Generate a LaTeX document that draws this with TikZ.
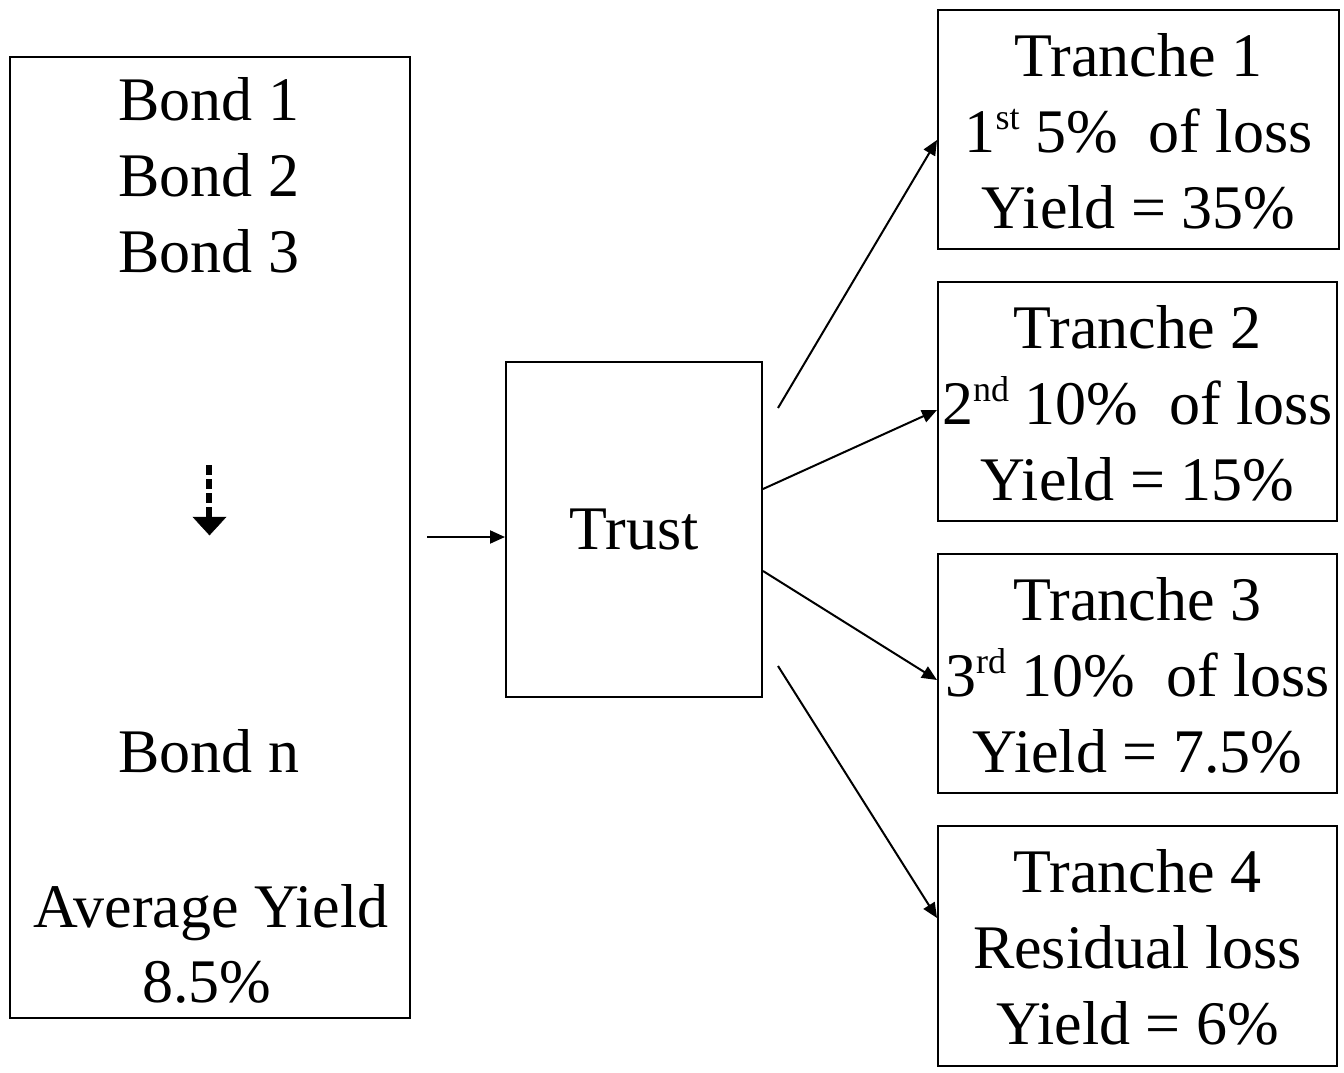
\documentclass[tikz,border=0pt]{standalone}
\usepackage{fontspec}
\setmainfont{Liberation Serif}
\usetikzlibrary{arrows.meta,calc}
\tikzset{
  box/.style={draw=black, line width=2pt, inner sep=0pt, align=center, font=\fontsize{62}{76}\selectfont},
  lbl/.style={anchor=base, inner sep=0pt, font=\fontsize{62}{76}\selectfont},
  conn/.style={line width=2pt, -{Triangle[length=15pt,width=13pt]}},
}
\newcommand{\sups}[1]{\raisebox{0.36em}{\fontsize{36}{36}\selectfont #1}}
\begin{document}
\begin{tikzpicture}[x=1pt,y=-1pt]
\path[use as bounding box] (0,0) rectangle (1344,1073);
% pool
\node[box, minimum width=400pt, minimum height=961pt] (pool) at (210,537.5) {};
\node[lbl] (b1) at (209,120) {Bond 1};
\node[lbl] (b2) at (209,196) {Bond 2};
\node[lbl] (b3) at (209,272) {Bond 3};
\node[lbl] (bn) at (209,772) {Bond n};
\node[lbl] (ay) at (211,927) {Average Yield};
\node[lbl] (ay2) at (207,1002) {8.5\%};
\draw[line width=6.5pt, dash pattern=on 10pt off 4pt] (209,465) -- (209,518);
\draw[line width=0.5pt, fill=black] (193,517) -- (226,517) -- (209.5,535) -- cycle;
% trust
\node[box, minimum width=256pt, minimum height=335pt] (trust) at (634,529.5) {Trust};
\coordinate (pin) at (427,537);
\draw[conn] (pin) -- (trust.west |- pin);
% tranches
\node[box, minimum width=401pt, minimum height=239pt] (t1) at (1138.5,129.5)
  {\rule{0pt}{46pt}Tranche 1\\1\sups{st} 5\%\ \ of loss\\Yield = 35\%};
\node[box, minimum width=399pt, minimum height=239pt] (t2) at (1137.5,401.5)
  {\rule{0pt}{46pt}Tranche 2\\2\sups{nd} 10\%\ \ of loss\\Yield = 15\%};
\node[box, minimum width=399pt, minimum height=239pt] (t3) at (1137.5,673.5)
  {\rule{0pt}{46pt}Tranche 3\\3\sups{rd} 10\%\ \ of loss\\Yield = 7.5\%};
\node[box, minimum width=399pt, minimum height=240pt] (t4) at (1137.5,946)
  {\rule{0pt}{46pt}Tranche 4\\Residual loss\\Yield = 6\%};
\coordinate (s1) at (778,408);
\coordinate (s4) at (778,666);
\draw[conn] (s1) -- ($(t1.west)+(0,10.5)$);
\draw[conn] ($(trust.east)+(0,-40.5)$) -- ($(t2.west)+(0,8.5)$);
\draw[conn] ($(trust.east)+(0,41.5)$) -- ($(t3.west)+(0,6.5)$);
\draw[conn] (s4) -- ($(t4.west)+(0,-28)$);
\end{tikzpicture}
\end{document}
